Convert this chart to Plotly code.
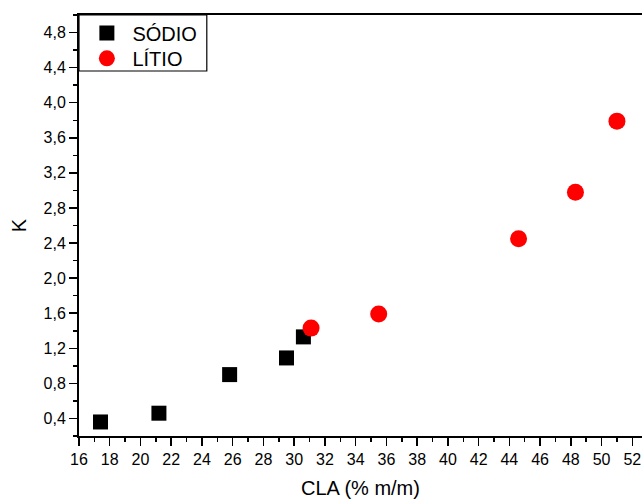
import plotly.graph_objects as go

# Data
sodio_x = [17.4, 21.2, 25.8, 29.5, 30.6]
sodio_k = [0.36, 0.46, 0.90, 1.09, 1.33]
litio_x = [31.1, 35.5, 44.6, 48.3, 51.0]
litio_k = [1.43, 1.59, 2.45, 2.98, 3.79]
series_names = ["SÓDIO", "LÍTIO"]

FONT = "Liberation Sans, Arial, sans-serif"

fig = go.Figure()
fig.add_trace(go.Scatter(x=sodio_x, y=sodio_k, mode="markers",
                         name="\u00a0" + series_names[0], legend="legend",
                         marker=dict(symbol="square", size=15, color="black")))
fig.add_trace(go.Scatter(x=litio_x, y=litio_k, mode="markers",
                         name="\u00a0" + series_names[1], legend="legend2",
                         marker=dict(symbol="circle", size=17, color="#ff0000")))

leg_common = dict(x=0.014, xanchor="left", yanchor="middle",
                  bgcolor="rgba(0,0,0,0)", borderwidth=0,
                  font=dict(size=20, family=FONT), itemsizing="trace")

fig.update_layout(
    width=642, height=500,
    margin=dict(l=79, r=0, t=15, b=64.3, autoexpand=False),
    paper_bgcolor="white", plot_bgcolor="white",
    separators=",.",
    font=dict(family=FONT, color="black", size=16),
    showlegend=True,
    legend=dict(y=0.957, **leg_common),
    legend2=dict(y=0.897, **leg_common),
    shapes=[dict(type="rect", xref="paper", yref="paper",
                 x0=0, x1=0.227, y0=0.867, y1=1,
                 line=dict(color="black", width=1.2), fillcolor="rgba(0,0,0,0)")],
)

fig.update_xaxes(
    range=[16, 52.63], dtick=2, tick0=16,
    showgrid=False, zeroline=False,
    showline=True, linecolor="black", linewidth=2, mirror=True,
    ticks="outside", ticklen=8, tickwidth=1.5, tickcolor="black",
    minor=dict(dtick=1, tick0=16, ticks="outside", ticklen=4, tickwidth=1.5, tickcolor="black"),
    tickfont=dict(size=16, family=FONT), ticklabeloverflow="allow",
    title=dict(text="CLA (% m/m)", font=dict(size=20, family=FONT), standoff=14),
)
fig.update_yaxes(
    range=[0.2, 5.0], dtick=0.4, tick0=0.4, tickformat=".1f",
    showgrid=False, zeroline=False,
    showline=True, linecolor="black", linewidth=2, mirror=False,
    ticks="outside", ticklen=8, tickwidth=1.5, tickcolor="black",
    minor=dict(dtick=0.2, tick0=0.2, ticks="outside", ticklen=4, tickwidth=1.5, tickcolor="black"),
    tickfont=dict(size=16, family=FONT),
    title=dict(text="K", font=dict(size=20, family=FONT), standoff=12),
)

fig.write_html("out.html",
               config=dict(displayModeBar=False, staticPlot=True),
               post_script="document.body.style.margin='0';document.body.style.overflow='hidden';")
